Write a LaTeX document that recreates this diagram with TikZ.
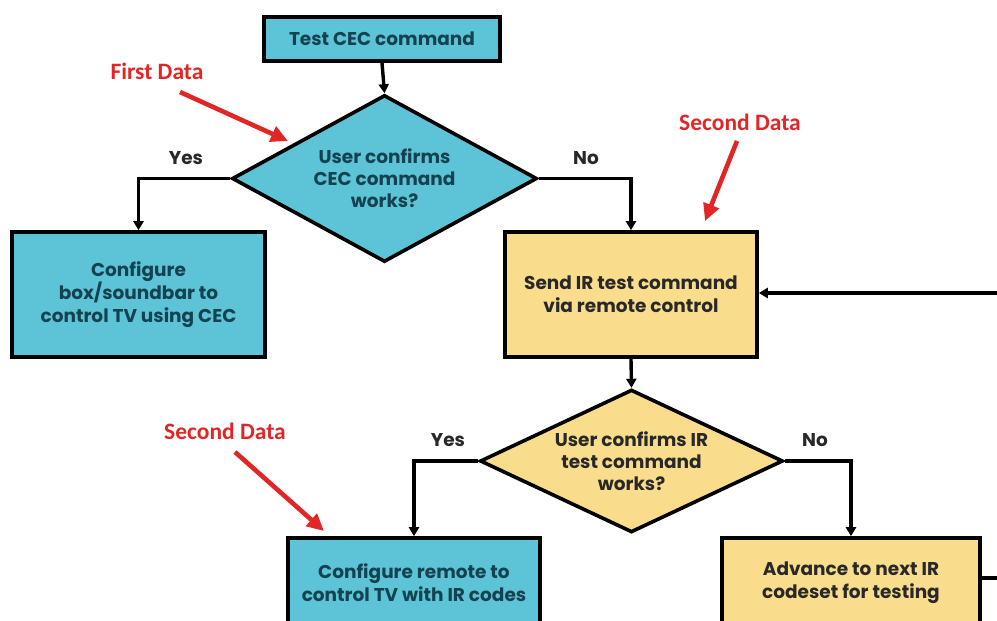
\documentclass[tikz,border=0pt]{standalone}
\usepackage{fontspec}
\setmainfont{Poppins}
\newfontfamily\redfont{Carlito}
\usetikzlibrary{shapes.geometric,arrows.meta}
\definecolor{cecblue}{RGB}{92,196,214}
\definecolor{iryellow}{RGB}{250,221,140}
\definecolor{tealtext}{RGB}{20,66,80}
\definecolor{annred}{RGB}{226,38,38}
\definecolor{labgray}{RGB}{40,40,40}
\tikzset{
  boxbase/.style={draw=black, line width=3.6pt, rectangle, align=center, font=\fontsize{18.5}{23}\selectfont\bfseries, inner sep=0pt},
  bluebox/.style={boxbase, fill=cecblue, text=tealtext},
  yellowbox/.style={boxbase, fill=iryellow, text=labgray},
  decision/.style={draw=black, line width=3.6pt, diamond, aspect=1.83, inner sep=0pt, align=center, font=\fontsize{18.5}{22}\selectfont\bfseries},
  flow/.style={draw=black, line width=3.4pt, -{Triangle[length=9pt,width=10pt]}},
  plainflow/.style={draw=black, line width=3.4pt},
  branchlabel/.style={text=labgray, font=\fontsize{18.5}{20}\selectfont\bfseries},
  annot/.style={text=annred, font=\redfont\fontsize{23.5}{26}\selectfont\bfseries},
  annarrow/.style={draw=annred, line width=4.6pt, -{Triangle[length=17pt,width=16pt]}}
}
\begin{document}
\begin{tikzpicture}[x=1pt,y=-1pt]
\useasboundingbox (0,0) rectangle (997,621);
\clip (0,0) rectangle (997,621);
\fill[white] (0,0) rectangle (997,621);

% nodes
\node[bluebox, minimum width=236pt, minimum height=44pt] (test) at (382,39) {Test CEC command};
\node[decision, fill=cecblue, text=tealtext, minimum width=305pt, minimum height=167pt] (d1) at (384.5,178.5) {User confirms\\CEC command\\works?};
\node[bluebox, minimum width=253pt, minimum height=125pt] (cfgcec) at (138.5,294.5) {Configure\\box/soundbar to\\control TV using CEC};
\node[yellowbox, minimum width=252pt, minimum height=125pt] (sendir) at (631,294.5) {Send IR test command\\via remote control};
\node[decision, fill=iryellow, text=labgray, minimum width=303pt, minimum height=142pt] (d2) at (631.5,461) {User confirms IR\\test command\\works?};
\node[bluebox, minimum width=252pt, minimum height=90pt] (cfgir) at (414,583) {Configure remote to\\control TV with IR codes};
\node[yellowbox, minimum width=258pt, minimum height=90pt] (advance) at (851,583) {Advance to next IR\\codeset for testing};

% loop corner coordinates (beyond the right edge)
\coordinate (loopA) at (1010,578);
\coordinate (loopB) at (1010,293);

% connectors
\draw[flow] (test.south) -- (d1.north);
\draw[flow] (d1.west) -| (cfgcec.north);
\draw[flow] (d1.east) -| (sendir.north);
\draw[flow] (sendir.south) -- (d2.north);
\draw[flow] (d2.west) -| (cfgir.north);
\draw[flow] (d2.east) -| (advance.north);
\draw[plainflow] (advance.east |- loopA) -- (loopA) -- (loopB);
\draw[flow] (loopB) -- (sendir.east |- loopB);

% branch labels
\node[branchlabel] (yes1) at (186,158) {Yes};
\node[branchlabel] (no1) at (586,158) {No};
\node[branchlabel] (yes2) at (448,440) {Yes};
\node[branchlabel] (no2) at (815,440) {No};

% annotations
\node[annot] (ann1) at (157,71) {First Data};
\node[annot] (ann2) at (740,122) {Second Data};
\node[annot] (ann3) at (225,431) {Second Data};
\coordinate (ann1tip) at (288,141);
\coordinate (ann2tip) at (705,221);
\coordinate (ann3tip) at (324,531);
\draw[annarrow] (180,92) -- (ann1tip);
\draw[annarrow] (737,141) -- (ann2tip);
\draw[annarrow] (235,452) -- (ann3tip);
\end{tikzpicture}
\end{document}
